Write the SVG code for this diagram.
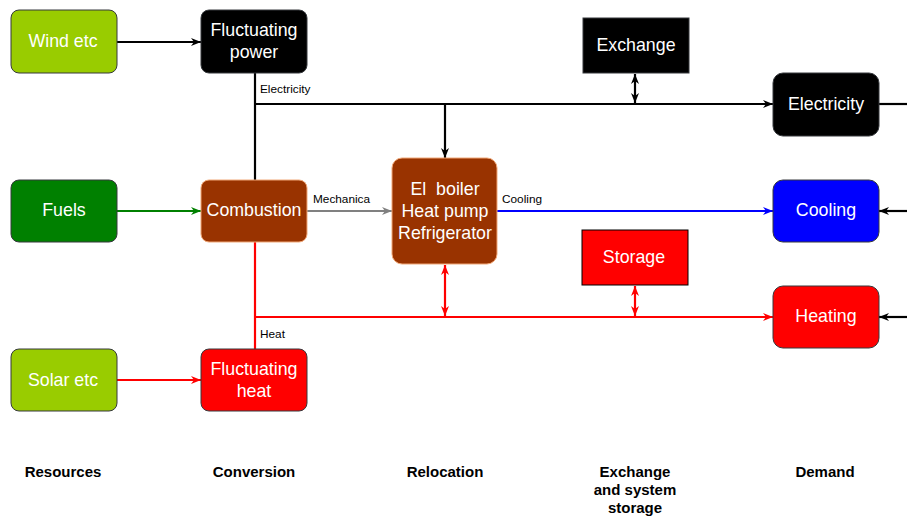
<svg xmlns="http://www.w3.org/2000/svg" width="907" height="517" viewBox="0 0 907 517">
<style>
.node{stroke:#36393d;stroke-width:1}
.lbl{font-family:"Liberation Sans",Arial,sans-serif;font-size:17.8px;fill:#ffffff;text-anchor:middle}
.elbl{font-family:"Liberation Sans",Arial,sans-serif;font-size:11.8px;fill:#000000}
.col{font-family:"Liberation Sans",Arial,sans-serif;font-size:15px;font-weight:bold;fill:#000000;text-anchor:middle}
.e{fill:none;stroke-width:2.2}
.k{stroke:#000000}
.g{stroke:#008000}
.gr{stroke:#808080}
.b{stroke:#0000ff}
.r{stroke:#ff0000}
</style>
<defs>
<marker id="ak" viewBox="0 0 10 10" refX="10" refY="5" markerWidth="10" markerHeight="10" markerUnits="userSpaceOnUse" orient="auto-start-reverse"><path d="M0,1 L10,5 L0,9 L3,5 z" fill="#000000"/></marker>
<marker id="ag" viewBox="0 0 10 10" refX="10" refY="5" markerWidth="10" markerHeight="10" markerUnits="userSpaceOnUse" orient="auto-start-reverse"><path d="M0,1 L10,5 L0,9 L3,5 z" fill="#008000"/></marker>
<marker id="agr" viewBox="0 0 10 10" refX="10" refY="5" markerWidth="10" markerHeight="10" markerUnits="userSpaceOnUse" orient="auto-start-reverse"><path d="M0,1 L10,5 L0,9 L3,5 z" fill="#808080"/></marker>
<marker id="ab" viewBox="0 0 10 10" refX="10" refY="5" markerWidth="10" markerHeight="10" markerUnits="userSpaceOnUse" orient="auto-start-reverse"><path d="M0,1 L10,5 L0,9 L3,5 z" fill="#0000ff"/></marker>
<marker id="ar" viewBox="0 0 10 10" refX="10" refY="5" markerWidth="10" markerHeight="10" markerUnits="userSpaceOnUse" orient="auto-start-reverse"><path d="M0,1 L10,5 L0,9 L3,5 z" fill="#ff0000"/></marker>
</defs>
<rect width="907" height="517" fill="#ffffff"/>

<g id="connectors">
  <line class="e k" x1="117" y1="42" x2="201" y2="42" marker-end="url(#ak)"/>
  <line class="e k" x1="255" y1="73" x2="255" y2="180"/>
  <line class="e k" x1="255" y1="104" x2="773" y2="104" marker-end="url(#ak)"/>
  <line class="e k" x1="445" y1="104" x2="445" y2="158" marker-end="url(#ak)"/>
  <line class="e k" x1="635" y1="74" x2="635" y2="103" marker-start="url(#ak)" marker-end="url(#ak)"/>
  <line class="e k" x1="879" y1="104" x2="907" y2="104"/>
  <line class="e g" x1="117" y1="211" x2="201" y2="211" marker-end="url(#ag)"/>
  <line class="e gr" x1="307" y1="211" x2="392" y2="211" marker-end="url(#agr)"/>
  <line class="e b" x1="497" y1="211" x2="773" y2="211" marker-end="url(#ab)"/>
  <line class="e k" x1="907" y1="211" x2="879" y2="211" marker-end="url(#ak)"/>
  <line class="e r" x1="255" y1="242" x2="255" y2="349"/>
  <line class="e r" x1="255" y1="317" x2="773" y2="317" marker-end="url(#ar)"/>
  <line class="e r" x1="445" y1="265" x2="445" y2="316" marker-start="url(#ar)" marker-end="url(#ar)"/>
  <line class="e r" x1="635" y1="286" x2="635" y2="316" marker-start="url(#ar)" marker-end="url(#ar)"/>
  <line class="e k" x1="907" y1="317" x2="879" y2="317" marker-end="url(#ak)"/>
  <line class="e r" x1="117" y1="380" x2="201" y2="380" marker-end="url(#ar)"/>
  <text class="elbl" x="260" y="93">Electricity</text>
  <text class="elbl" x="313" y="203">Mechanica</text>
  <text class="elbl" x="502" y="203">Cooling</text>
  <text class="elbl" x="260" y="338">Heat</text>
</g>

<g id="wind"><rect class="node" x="11" y="10" width="106" height="63" rx="8" fill="#99cc00"/><text class="lbl" x="63" y="47">Wind etc</text></g>
<g id="fluct-power"><rect class="node" x="201" y="10" width="106" height="63" rx="8" fill="#000000"/><text class="lbl" x="254" y="36">Fluctuating</text><text class="lbl" x="254" y="58">power</text></g>
<g id="fuels"><rect class="node" x="11" y="180" width="106" height="62" rx="8" fill="#008000"/><text class="lbl" x="64" y="216">Fuels</text></g>
<g id="combustion"><rect x="201" y="180" width="106" height="62" rx="8" fill="#993300" stroke="#f0a878" stroke-width="1"/><text class="lbl" x="254" y="216">Combustion</text></g>
<g id="solar"><rect class="node" x="11" y="349" width="106" height="62" rx="8" fill="#99cc00"/><text class="lbl" x="63" y="386">Solar etc</text></g>
<g id="fluct-heat"><rect class="node" x="201" y="349" width="106" height="62" rx="8" fill="#ff0000"/><text class="lbl" x="254" y="375">Fluctuating</text><text class="lbl" x="254" y="397">heat</text></g>
<g id="boiler"><rect x="392" y="158" width="105" height="106" rx="10" fill="#993300" stroke="#f0a878" stroke-width="1"/><text class="lbl" x="445" y="195" xml:space="preserve">El  boiler</text><text class="lbl" x="445" y="217">Heat pump</text><text class="lbl" x="445" y="239">Refrigerator</text></g>
<g id="exchange"><rect x="583" y="18" width="106" height="55" fill="#000000" stroke="#36393d" stroke-width="1"/><text class="lbl" x="636" y="51">Exchange</text></g>
<g id="storage"><rect x="582" y="230" width="106" height="55" fill="#ff0000" stroke="#000000" stroke-width="1"/><text class="lbl" x="634" y="263">Storage</text></g>
<g id="electricity"><rect class="node" x="773" y="73" width="106" height="63" rx="10" fill="#000000"/><text class="lbl" x="826" y="110">Electricity</text></g>
<g id="cooling"><rect class="node" x="773" y="180" width="106" height="62" rx="10" fill="#0000ff"/><text class="lbl" x="826" y="216">Cooling</text></g>
<g id="heating"><rect class="node" x="773" y="286" width="106" height="62" rx="10" fill="#ff0000"/><text class="lbl" x="826" y="322">Heating</text></g>

<g id="columns">
  <text class="col" x="63" y="477">Resources</text>
  <text class="col" x="254" y="477">Conversion</text>
  <text class="col" x="445" y="477">Relocation</text>
  <text class="col" x="635" y="477">Exchange</text>
  <text class="col" x="635" y="495">and system</text>
  <text class="col" x="635" y="513">storage</text>
  <text class="col" x="825" y="477">Demand</text>
</g>
</svg>
